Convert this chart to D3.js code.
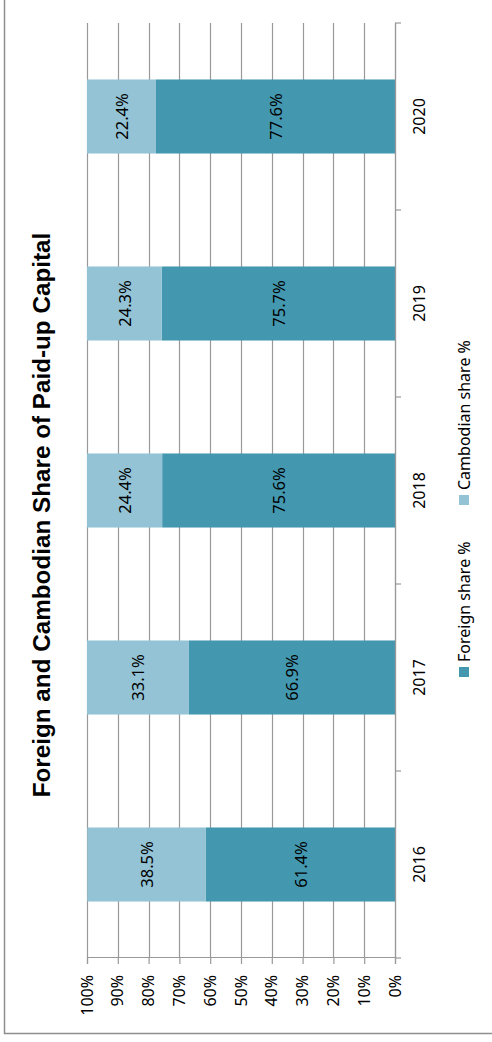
<!DOCTYPE html>
<html><head><meta charset="utf-8">
<script src="https://cdn.jsdelivr.net/npm/d3@7"></script>
<style>html,body{margin:0;padding:0;background:#fff;}svg{display:block;}</style>
</head><body>
<script>
const categories = ["2016","2017","2018","2019","2020"];
const foreignShare = [61.4, 66.9, 75.6, 75.7, 77.6];
const cambodianShare = [38.5, 33.1, 24.4, 24.3, 22.4];
const percentTicks = [0,10,20,30,40,50,60,70,80,90,100];
const seriesNames = ["Foreign share %","Cambodian share %"];
const seriesColors = ["#4398B0","#93C3D5"];
const title = "Foreign and Cambodian Share of Paid-up Capital";

const W = 492, H = 1042;
const font = "'Noto Sans', 'Open Sans', sans-serif";
const titleFont = "'Liberation Sans', Arial, sans-serif";
const gridColor = "#999999";
const svg = d3.select("body").append("svg").attr("width", W).attr("height", H);

// outer border
svg.append("path").attr("d", `M4.5,-2 V1033.5 H494`).attr("fill","none")
  .attr("stroke","#8e8e8e").attr("stroke-width",1.5);

// chart drawn in an unrotated frame (u across, v down), rotated -90deg
const g = svg.append("g").attr("transform", `translate(0,${H}) rotate(-90)`);

const x = d3.scaleBand().domain(categories).range([84, 1019]).paddingInner(0.604).paddingOuter(0.302);
const y = d3.scaleLinear().domain([0, 100]).range([395, 87]);

// gridlines
g.append("g").selectAll("line").data(percentTicks).join("line")
  .attr("x1", 84).attr("x2", 1019)
  .attr("y1", d => Math.round(y(d)) + 0.5).attr("y2", d => Math.round(y(d)) + 0.5)
  .attr("stroke", gridColor).attr("stroke-width", 1.2);

// value axis
const yAxis = g.append("g").attr("transform", "translate(84,0)")
  .call(d3.axisLeft(y).tickValues(percentTicks).tickSize(6).tickFormat(d => d + "%"));
yAxis.select(".domain").attr("stroke", gridColor).attr("stroke-width", 1.2);
yAxis.selectAll(".tick line").attr("stroke", gridColor).attr("stroke-width", 1.2);
yAxis.selectAll(".tick text").attr("x", -17).attr("font-family", font).attr("font-size", 16).attr("fill", "#000");

// stacked bars
const data = categories.map((c, i) => ({cat: c, f: foreignShare[i], k: cambodianShare[i]}));
const stack = d3.stack().keys(["f","k"])(data);
g.append("g").selectAll("g").data(stack).join("g")
  .attr("fill", (d, i) => seriesColors[i])
  .selectAll("rect").data(d => d).join("rect")
  .attr("x", d => x(d.data.cat)).attr("width", x.bandwidth())
  .attr("y", d => y(d[1])).attr("height", d => y(d[0]) - y(d[1]));

// data labels
g.append("g").selectAll("g").data(stack).join("g")
  .selectAll("text").data(d => d).join("text")
  .attr("x", d => x(d.data.cat) + x.bandwidth() / 2)
  .attr("y", d => (y(d[0]) + y(d[1])) / 2)
  .attr("text-anchor", "middle").attr("dominant-baseline", "central")
  .attr("font-family", font).attr("font-size", 16.5).attr("fill", "#000")
  .text(d => (d[1] - d[0]).toFixed(1) + "%");

// category axis
const xAxis = g.append("g").attr("transform", "translate(0,395)");
xAxis.append("line").attr("x1", 84).attr("x2", 1019).attr("y1", 0.5).attr("y2", 0.5)
  .attr("stroke", gridColor).attr("stroke-width", 1.2);
const bounds = categories.map(c => x(c) - x.step() * x.paddingInner() / 2).concat([1019]);
bounds[0] = 84;
xAxis.selectAll("line.tk").data(bounds).join("line").attr("class","tk")
  .attr("x1", d => d).attr("x2", d => d).attr("y1", 0).attr("y2", 6)
  .attr("stroke", gridColor).attr("stroke-width", 1.2);
xAxis.selectAll("text").data(categories).join("text")
  .attr("x", d => x(d) + x.bandwidth() / 2).attr("y", 30)
  .attr("text-anchor", "middle").attr("font-family", font).attr("font-size", 16).attr("fill", "#000")
  .text(d => d);

// title, sized to the reference's span
const t = g.append("text").attr("x", 527).attr("y", 50).attr("text-anchor", "middle")
  .attr("font-family", titleFont).attr("font-size", 24).attr("font-weight", "bold").attr("fill", "#000")
  .text(title);
const tl = t.node().getComputedTextLength();
if (tl > 0) t.attr("font-size", 24 * 565 / tl);

// legend
const legendX = [365, 537];
const lg = g.append("g").selectAll("g").data(seriesNames).join("g")
  .attr("transform", (d, i) => `translate(${legendX[i]},459)`);
lg.append("rect").attr("width", 10).attr("height", 10).attr("fill", (d, i) => seriesColors[i]);
lg.append("text").attr("x", 15).attr("y", 11).attr("font-family", font).attr("font-size", 16).attr("fill", "#000")
  .text(d => d);
</script>
</body></html>
